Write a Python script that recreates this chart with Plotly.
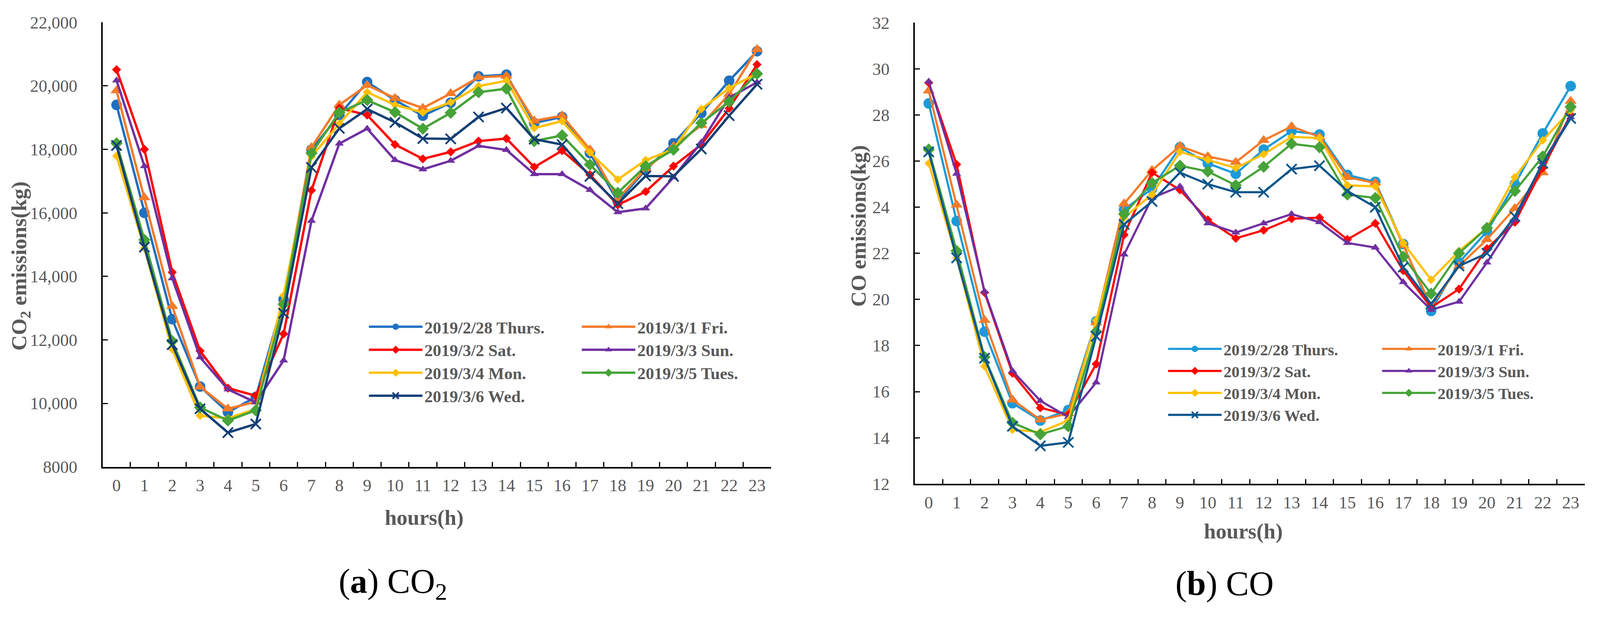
import plotly.graph_objects as go

hours = [str(h) for h in range(24)]

days = ["2019/2/28 Thurs.", "2019/3/1 Fri.", "2019/3/2 Sat.", "2019/3/3 Sun.",
        "2019/3/4 Mon.", "2019/3/5 Tues.", "2019/3/6 Wed."]

co2_thu = [19400, 16000, 12650, 10530, 9720, 10200, 13270, 17990, 19080, 20120, 19550, 19060,
           19470, 20300, 20350, 18830, 19020, 17880, 16360, 17350, 18190, 19140, 20160, 21090]
co2_fri = [19850, 16480, 13060, 10520, 9830, 10050, 13200, 18060, 19400, 20020, 19610, 19300,
           19760, 20270, 20310, 18900, 19060, 17990, 16440, 17390, 18090, 18760, 19740, 21150]
co2_sat = [20510, 18000, 14130, 11650, 10480, 10240, 12190, 16710, 19300, 19080, 18150, 17700,
           17920, 18260, 18340, 17440, 17960, 17200, 16250, 16670, 17470, 18150, 19290, 20670]
co2_sun = [20170, 17470, 13940, 11450, 10440, 10030, 11350, 15750, 18180, 18650, 17660, 17370,
           17640, 18110, 17980, 17220, 17220, 16720, 16020, 16140, 17120, 18220, 19630, 20110]
co2_mon = [17790, 14890, 11700, 9610, 9530, 9820, 13400, 17770, 18810, 19800, 19400, 19160,
           19480, 19990, 20160, 18670, 18890, 17900, 17050, 17660, 18000, 19270, 19930, 20390]
co2_tue = [18190, 15150, 11960, 9870, 9460, 9780, 13120, 17880, 19160, 19550, 19170, 18650,
           19150, 19800, 19910, 18260, 18440, 17520, 16630, 17470, 17990, 18830, 19500, 20380]
co2_wed = [18120, 14920, 11850, 9830, 9080, 9350, 12840, 17430, 18660, 19270, 18850, 18340,
           18330, 19020, 19300, 18320, 18150, 17150, 16290, 17160, 17150, 18010, 19060, 20050]

co_thu = [28.5, 23.4, 18.6, 15.5, 14.75, 15.2, 19.05, 23.9, 24.8, 26.6, 25.9, 25.45,
          26.5, 27.3, 27.15, 25.4, 25.1, 22.4, 19.5, 21.6, 22.95, 25.0, 27.2, 29.25]
co_fri = [29.05, 24.1, 19.1, 15.65, 14.78, 15.05, 19.0, 24.15, 25.6, 26.65, 26.2, 25.95,
          26.9, 27.5, 27.05, 25.3, 25.05, 22.35, 19.7, 21.45, 22.6, 23.95, 25.5, 28.6]
co_sat = [29.4, 25.85, 20.3, 16.8, 15.3, 15.0, 17.2, 22.8, 25.5, 24.75, 23.45, 22.65,
          23.0, 23.5, 23.55, 22.6, 23.3, 21.25, 19.65, 20.45, 22.2, 23.35, 25.7, 28.0]
co_sun = [29.45, 25.45, 20.35, 16.9, 15.6, 14.9, 16.4, 21.95, 24.4, 24.9, 23.3, 22.9,
          23.3, 23.7, 23.35, 22.45, 22.25, 20.75, 19.55, 19.9, 21.6, 23.45, 25.95, 27.9]
co_mon = [25.9, 21.8, 17.1, 14.35, 14.25, 14.75, 19.1, 23.55, 24.55, 26.4, 26.05, 25.7,
          26.3, 27.05, 27.0, 24.95, 24.9, 22.45, 20.85, 22.1, 23.1, 25.3, 26.9, 28.2]
co_tue = [26.5, 22.1, 17.5, 14.65, 14.15, 14.5, 18.6, 23.7, 25.05, 25.8, 25.55, 24.95,
          25.75, 26.75, 26.6, 24.55, 24.4, 21.85, 20.25, 22.0, 23.1, 24.7, 26.2, 28.35]
co_wed = [26.4, 21.8, 17.45, 14.5, 13.65, 13.8, 18.4, 23.25, 24.25, 25.5, 25.0, 24.65,
          24.65, 25.65, 25.8, 24.7, 24.0, 21.4, 19.8, 21.45, 22.0, 23.6, 25.9, 27.85]

co2_tickvals = [8000, 10000, 12000, 14000, 16000, 18000, 20000, 22000]
co2_ticktext = ["8000", "10,000", "12,000", "14,000", "16,000", "18,000", "20,000", "22,000"]
co_tickvals = [12, 14, 16, 18, 20, 22, 24, 26, 28, 30, 32]
co_ticktext = ["12", "14", "16", "18", "20", "22", "24", "26", "28", "30", "32"]

co2_series = [co2_thu, co2_fri, co2_sat, co2_sun, co2_mon, co2_tue, co2_wed]
co_series = [co_thu, co_fri, co_sat, co_sun, co_mon, co_tue, co_wed]

# figure sized to fit the window with the page's 8px body margin;
# positions below are given in reference-picture pixels and converted here
FW, FH = 4170, 1577
OFF = 8
SX = 1.024      # observed horizontal scale of the photographed page
DY = 13         # observed vertical offset of the photographed page
def px(x):
    return (x / SX - OFF) / FW
def py(y):
    return 1 - (y - DY - OFF) / FH

FONT = "Liberation Serif"
GREY = "#595959"

colors_left = ["#1F70C1", "#F47B2A", "#FF0000", "#7030A0", "#FFC000", "#46A338", "#143F74"]
colors_right = ["#1C9AD8", "#F47B2A", "#FF0000", "#7030A0", "#FFC000", "#46A338", "#0D568C"]
symbols = ["circle", "triangle-up", "diamond", "triangle-up", "diamond", "diamond", "x-thin"]
sizes = [27, 27, 18, 20, 17, 24, 26]
# column 1 of each legend: Thurs, Sat, Mon, Wed ; column 2: Fri, Sun, Tues
col_of = [0, 1, 0, 1, 0, 1, 0]

fig = go.Figure()

def add_series(series, colors, xa, ya, legends, lw):
    for i, (name, vals) in enumerate(zip(days, series)):
        mk = dict(symbol=symbols[i], size=sizes[i], color=colors[i])
        if symbols[i] == "x-thin":
            mk["line"] = dict(width=4.5, color=colors[i])
        fig.add_trace(go.Scatter(
            x=hours, y=vals, name=name, mode="lines+markers",
            line=dict(color=colors[i], width=lw), marker=mk,
            xaxis=xa, yaxis=ya, legend=legends[col_of[i]],
        ))

add_series(co2_series, colors_left, "x", "y", ["legend", "legend2"], 6)
add_series(co_series, colors_right, "x2", "y2", ["legend3", "legend4"], 5.5)

tickfont = dict(family=FONT, size=44, color=GREY)

def xaxis_cfg(domain, anchor, lw):
    return dict(domain=domain, anchor=anchor, type="category", range=[-0.5, 23.5],
                tickson="boundaries", ticks="inside", ticklen=13, tickwidth=3,
                tickcolor="black", showline=True, linecolor="black", linewidth=lw,
                showgrid=False, zeroline=False, tickfont=tickfont, ticklabelstandoff=6)

def yaxis_cfg(domain, anchor, rng, tv, tt, lw):
    return dict(domain=domain, anchor=anchor, range=rng, tickvals=tv, ticktext=tt,
                ticks="inside", ticklen=13, tickwidth=3, tickcolor="black",
                showline=True, linecolor="black", linewidth=lw, showgrid=False,
                zeroline=False, tickfont=tickfont, ticklabelstandoff=52)

# plot areas in reference pixels
lx0, lx1, ly0, ly1 = 269, 2021, 47, 1222
rx0, rx1, ry0, ry1 = 2398, 4154, 48, 1267

def leg(x, y, size):
    return dict(x=px(x), y=py(y), xanchor="left", yanchor="top", orientation="v",
                bgcolor="rgba(0,0,0,0)",
                font=dict(family=FONT, size=size, color=GREY, weight="bold"),
                itemwidth=137, tracegroupgap=0, traceorder="normal")

fig.update_layout(
    width=FW, height=FH, margin=dict(l=0, r=0, t=0, b=0),
    paper_bgcolor="white", plot_bgcolor="white",
    xaxis=xaxis_cfg([px(lx0), px(lx1)], "y", 4),
    yaxis=yaxis_cfg([py(ly1), py(ly0)], "x", [8000, 22000],
                    co2_tickvals, co2_ticktext, 4),
    xaxis2=xaxis_cfg([px(rx0), px(rx1)], "y2", 3.5),
    yaxis2=yaxis_cfg([py(ry1), py(ry0)], "x2", [12, 32],
                     co_tickvals, co_ticktext, 3.5),
    legend=leg(962, 816, 43),
    legend2=leg(1520, 816, 43),
    legend3=leg(3057, 876, 41),
    legend4=leg(3618, 876, 41),
    showlegend=True,
)

titlefont = dict(family=FONT, size=55, color=GREY, weight="bold")
ann = [
    dict(text="CO<sub>2</sub> emissions(kg)", x=px(53), y=py(691), textangle=-90, font=titlefont),
    dict(text="hours(h)", x=px(1112), y=py(1356), font=titlefont),
    dict(text="CO emissions(kg)", x=px(2250), y=py(585), textangle=-90, font=titlefont),
    dict(text="hours(h)", x=px(3259), y=py(1392), font=titlefont),
    dict(text="(<b>a</b>) CO<sub>2</sub>", x=px(1030), y=py(1530),
         font=dict(family=FONT, size=88, color="black")),
    dict(text="(<b>b</b>) CO", x=px(3210), y=py(1530),
         font=dict(family=FONT, size=88, color="black")),
]
for a in ann:
    a.update(xref="paper", yref="paper", showarrow=False, xanchor="center", yanchor="middle")
fig.update_layout(annotations=ann)

fig.write_html("out.html")
